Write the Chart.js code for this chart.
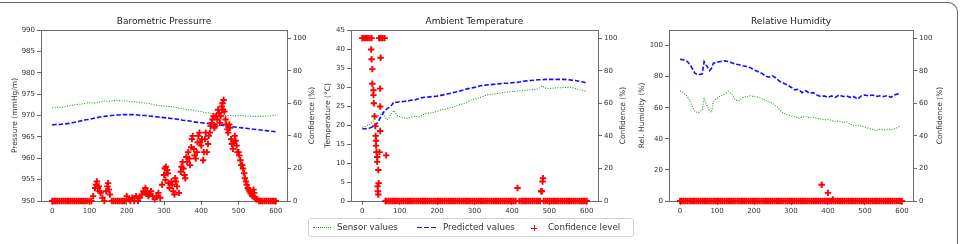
<!DOCTYPE html>
<html><head><meta charset="utf-8">
<script src="https://cdn.jsdelivr.net/npm/chart.js@4.4.0/dist/chart.umd.min.js"></script>
<style>
html,body{margin:0;padding:0;background:#fff;width:960px;height:244px;overflow:hidden;position:relative;font-family:"DejaVu Sans",sans-serif;}
.frame{position:absolute;left:-20px;top:2px;width:978px;height:300px;border-top:1.5px solid #666;border-right:1.5px solid #666;border-top-right-radius:10px;box-sizing:border-box;}
canvas{position:absolute;top:0;}
#legend{position:absolute;left:308px;top:218px;width:326px;height:19px;border:1px solid #d4d4d4;border-radius:3px;box-sizing:border-box;font-size:8.7px;color:#333;}
#legend span{position:absolute;}
.lt{top:3px;line-height:11px;white-space:nowrap;}
</style></head>
<body>
<div class="frame"></div>
<canvas id="c1" width="328" height="215" style="left:0px;width:328px;height:215px"></canvas>
<canvas id="c2" width="307" height="215" style="left:321px;width:307px;height:215px"></canvas>
<canvas id="c3" width="338" height="215" style="left:622px;width:338px;height:215px"></canvas>
<div id="legend">
  <span style="left:4px;top:8px;width:18px;border-top:1.3px dotted #1f9a1f;"></span>
  <span class="lt" style="left:28px;">Sensor values</span>
  <span style="left:108px;top:8px;width:5px;border-top:1.6px solid #1010ff;"></span>
  <span style="left:115px;top:8px;width:5px;border-top:1.6px solid #1010ff;"></span>
  <span style="left:122px;top:8px;width:5px;border-top:1.6px solid #1010ff;"></span>
  <span class="lt" style="left:134px;">Predicted values</span>
  <span style="left:222px;top:8.5px;width:6px;border-top:1.3px solid #f00;"></span>
  <span style="left:224.5px;top:6px;height:6px;border-left:1.3px solid #f00;"></span>
  <span class="lt" style="left:239px;">Confidence level</span>
</div>
<script>
// ---------- shared ----------
const xTicks = [0, 100, 200, 300, 400, 500, 600];
const confTicks = [0, 20, 40, 60, 80, 100];
const seriesLabels = ['Sensor values', 'Predicted values', 'Confidence level'];

// ---------- Panel 1: Barometric Pressure ----------
const presX = [0,10,20,30,40,50,60,70,80,90,100,110,120,130,140,150,160,170,180,190,200,210,220,230,240,250,260,270,280,290,300,310,320,330,340,350,360,370,380,390,400,410,420,430,440,450,460,470,480,490,500,510,520,530,540,550,560,570,580,590,600];
const presSensor = [971.8,971.8,971.9,972.0,972.2,972.3,972.5,972.6,972.7,972.9,973.0,972.9,973.0,973.2,973.4,973.3,973.4,973.5,973.5,973.4,973.4,973.3,973.2,973.1,973.0,972.9,972.8,972.6,972.4,972.3,972.2,972.1,972.1,971.9,971.7,971.6,971.4,971.3,971.2,971.0,970.9,970.7,970.6,970.4,970.2,970.1,970.0,970.0,970.0,969.9,970.0,970.0,969.9,969.9,969.8,969.8,969.8,969.9,969.9,970.0,970.1];
const presPred = [967.8,967.9,967.9,968.0,968.1,968.2,968.4,968.6,968.8,969.0,969.1,969.3,969.5,969.7,969.8,969.9,970.0,970.1,970.1,970.2,970.2,970.2,970.2,970.1,970.0,970.0,969.9,969.8,969.7,969.6,969.5,969.4,969.3,969.2,969.1,968.9,968.8,968.7,968.5,968.4,968.3,968.2,968.1,968.0,967.9,967.8,967.7,967.5,967.4,967.3,967.2,967.1,967.0,966.9,966.8,966.7,966.6,966.5,966.4,966.3,966.2];
const presTicks = [950, 955, 960, 965, 970, 975, 980, 985, 990];
// confidence sampled every 5 steps (x = 0..600)
const presConf = [
  0,0,0,0,0,0,0,0,0,0,0,0,0,0,0,0,0,0,0,0,
  0,0,3,8,12,9,5,2,0,6,11,4,0,0,0,0,0,0,0,0,
  3,1,0,2,0,3,0,2,4,6,8,6,4,6,3,1,3,5,2,10,
  16,21,17,8,12,6,14,9,5,18,24,16,27,30,22,38,32,26,36,42,
  34,25,38,30,40,46,50,45,52,56,48,58,62,50,44,47,38,32,40,34,
  30,25,22,17,12,8,6,4,7,2,1,0,0,0,0,0,0,0,0,0,
  0];
// additional scattered confidence points [x, value]
const presConfExtra = [[118,10],[122,8],[127,6],[148,9],[152,7],[250,5],[258,3],[302,20],[304,13],[308,19],[312,11],[322,10],[328,4],[332,12],[347,21],[352,20],[357,14],[362,24],[368,26],[373,33],[377,40],[382,28],[388,30],[392,40],[397,36],[402,38],[407,30],[412,42],[418,35],[423,42],[428,48],[433,52],[438,46],[443,50],[448,54],[452,52],[457,60],[458,56],[462,55],[467,47],[472,42],[477,45],[482,35],[487,36],[492,37],[497,30],[502,28],[507,22],[512,20],[517,14],[522,10],[527,7],[532,5],[537,3],[542,5],[547,1]];

// ---------- Panel 2: Ambient Temperature ----------
const tempX = [0,10,20,30,40,50,55,60,65,70,75,80,85,90,95,100,110,120,130,140,150,160,170,180,190,200,210,220,230,240,250,260,270,280,290,300,310,320,330,340,350,360,370,380,390,400,410,420,430,440,450,460,470,480,490,500,510,520,530,540,550,560,570,580,590,597];
const tempSensor = [19.4,19.7,20.2,21.0,22.3,23.0,23.4,22.5,21.4,21.6,22.5,23.3,23.8,23.0,22.3,22.2,21.9,21.8,22.0,22.3,22.1,22.6,23.0,23.1,23.3,23.6,24.0,24.1,24.5,24.6,25.0,25.4,25.6,26.0,26.5,26.8,27.1,27.4,27.8,28.0,28.1,28.3,28.4,28.6,28.7,28.8,28.9,29.0,29.0,29.2,29.3,29.3,29.5,30.3,29.7,29.6,29.7,29.8,29.8,29.9,29.9,29.8,29.6,29.3,29.1,28.9];
const tempPred = [19.0,19.0,19.2,19.6,20.5,22.2,23.0,23.8,24.2,24.5,24.8,25.4,26.1,26.0,26.0,26.1,26.2,26.3,26.5,26.6,26.9,27.2,27.3,27.4,27.5,27.6,27.8,28.0,28.2,28.4,28.7,28.9,29.2,29.5,29.7,29.9,30.2,30.4,30.5,30.6,30.7,30.8,30.9,31.0,31.0,31.1,31.2,31.3,31.5,31.6,31.7,31.8,31.9,31.9,32.0,32.0,32.0,32.0,32.0,32.0,31.9,31.8,31.7,31.5,31.3,31.1];
const tempTicks = [0, 5, 10, 15, 20, 25, 30, 35, 40, 45];
const tempConf = [
  100,100,100,100,100,100,65,46,27,100,100,100,100,0,0,0,0,0,0,0,
  0,0,0,0,0,0,0,0,0,0,0,0,0,0,0,0,0,0,0,0,
  0,0,0,0,0,0,0,0,0,0,0,0,0,0,0,0,0,0,0,0,
  0,0,0,0,0,0,0,0,0,0,0,0,0,0,0,0,0,0,0,0,
  0,0,0,8,0,0,0,0,0,0,0,0,0,0,0,0,6,0,0,0,
  0,0,0,0,0,0,0,0,0,0,0,0,0,0,0,0,0,0,0,0,
  0];
const tempConfExtra = [[24,93],[25,87],[27,81],[27,72],[30,68],[31,60],[33,52],[36,40],[37,37],[37,34],[38,30],[40,24],[43,19],[41,9],[42,6],[43,4],[44,11],[46,30],[48,43],[48,58],[48,69],[49,88],[64,28],[62,0],[478,6],[482,12],[483,14]];

// ---------- Panel 3: Relative Humidity ----------
const humX = [0,10,20,30,40,50,60,65,70,80,85,90,100,110,120,130,140,150,160,170,180,190,200,210,220,230,240,250,260,270,280,290,300,310,320,330,340,350,360,370,380,390,400,410,420,430,440,450,460,470,480,490,500,510,520,530,540,550,560,570,580,590,595];
const humSensor = [71.0,69.3,67.2,62.4,57.5,56.9,58.6,65.7,62.9,57.5,57.1,63.9,66.1,67.6,68.7,70.4,68.7,65.0,64.4,66.7,67.2,67.6,67.2,66.7,66.1,65.0,63.9,62.9,61.2,58.6,56.4,55.4,54.7,54.3,53.2,53.9,54.3,53.6,53.9,53.2,52.8,52.1,52.6,51.7,51.1,51.5,50.4,51.1,49.6,48.3,48.9,48.3,47.4,46.8,46.1,45.3,46.1,45.7,46.1,45.7,46.6,47.4,48.3];
const humPred = [91.2,90.8,89.7,86.5,82.2,81.1,81.8,89.7,87.6,83.9,85.4,88.6,89.3,89.7,90.1,89.7,89.0,88.0,87.6,87.0,86.5,85.8,84.3,83.3,82.2,80.5,79.6,80.5,79.0,76.8,75.8,74.7,73.2,71.5,71.9,69.7,71.0,69.3,69.7,68.2,67.2,67.6,66.7,67.6,66.7,68.2,67.2,67.6,66.7,67.2,65.5,67.6,68.2,67.6,68.2,67.2,67.6,67.2,67.8,66.7,68.2,68.9,69.3];
const humTicks = [0, 20, 40, 60, 80, 100];
const humConf = [
  0,0,0,0,0,0,0,0,0,0,0,0,0,0,0,0,0,0,0,0,
  0,0,0,0,0,0,0,0,0,0,0,0,0,0,0,0,0,0,0,0,
  0,0,0,0,0,0,0,0,0,0,0,0,0,0,0,0,0,0,0,0,
  0,0,0,0,0,0,0,0,0,0,0,0,0,0,0,0,0,0,0,0,
  0,0,0,0,0,0,0,0,0,0,0,0,0,0,0,0,0,0,0,0,
  0,0,0,0,0,0,0,0,0,0,0,0,0,0,0,0,0,0,0,0,
  0];
const humConfExtra = [[383,10],[400,5],[413,1]];

// ---------- drawing ----------
Chart.defaults.font.family = '"DejaVu Sans", sans-serif';
Chart.defaults.animation = false;
const SPINE = '#6a6a6a';
const TXT = '#333';

const framePlugin = {
  id: 'frameTop',
  afterDatasetsDraw(chart, args, opts) {
    const a = chart.chartArea, ctx = chart.ctx;
    ctx.save();
    ctx.strokeStyle = SPINE; ctx.lineWidth = 1;
    ctx.beginPath(); ctx.moveTo(a.left, a.top + 0.5); ctx.lineTo(a.right, a.top + 0.5); ctx.stroke();
    // right axis title, reading bottom-to-top like the reference
    ctx.fillStyle = TXT;
    ctx.font = '7.5px "DejaVu Sans", sans-serif';
    ctx.translate(opts.rightTitleX, (a.top + a.bottom) / 2);
    ctx.rotate(-Math.PI / 2);
    ctx.textAlign = 'center'; ctx.textBaseline = 'middle';
    ctx.fillText('Confidence (%)', 0, 0);
    ctx.restore();
  }
};

function pts(xs, ys) { return xs.map((x, i) => ({ x: x, y: ys[i] })); }
function stepPts(ys) { return ys.map((v, i) => ({ x: i * 5, y: v })); }
function pairPts(arr) { return arr.map(p => ({ x: p[0], y: p[1] })); }

function makePanel(id, o) {
  const tickFont = { size: 7 };
  const confStyle = {
    yAxisID: 'y1', showLine: false, pointStyle: 'cross', pointRadius: 3.2, pointHoverRadius: 3.2,
    pointBorderColor: '#ff0000', pointBackgroundColor: '#ff0000', pointBorderWidth: 1.9,
    borderColor: '#ff0000', clip: false, order: 0
  };
  new Chart(document.getElementById(id), {
    type: 'line',
    data: {
      datasets: [
        Object.assign({ label: seriesLabels[2], data: stepPts(o.conf) }, confStyle),
        Object.assign({ label: seriesLabels[2] + ' ', data: pairPts(o.confExtra) }, confStyle),
        { label: seriesLabels[0], data: pts(o.x, o.sensor), yAxisID: 'y', borderColor: '#1f9a1f', borderWidth: 1.1,
          borderDash: [1, 1.5], pointRadius: 0, tension: 0, order: 2 },
        { label: seriesLabels[1], data: pts(o.x, o.pred), yAxisID: 'y', borderColor: '#1010ff', borderWidth: 1.6,
          borderDash: [4.5, 2], pointRadius: 0, tension: 0, order: 1 }
      ]
    },
    options: {
      responsive: false, maintainAspectRatio: false, animation: false,
      layout: { padding: 0 },
      plugins: {
        legend: { display: false }, tooltip: { enabled: false },
        title: { display: true, text: o.title, color: '#222', font: { size: 9, weight: 'normal' }, padding: { top: 16.6, bottom: 2.6 } },
        frameTop: { rightTitleX: o.rightTitleX }
      },
      scales: {
        x: {
          type: 'linear', min: -30, max: 630,
          afterBuildTicks: s => { s.ticks = xTicks.map(v => ({ value: v })); },
          afterFit: s => { s.height = 14; },
          ticks: { font: tickFont, color: TXT, padding: 2, maxRotation: 0 },
          grid: { drawOnChartArea: false, tickLength: 4, color: SPINE },
          border: { color: SPINE, width: 1 }
        },
        y: {
          type: 'linear', position: 'left', min: o.yMin, max: o.yMax,
          afterBuildTicks: s => { s.ticks = o.yTicks.map(v => ({ value: v })); },
          afterFit: s => { s.width = o.leftW; },
          ticks: { font: tickFont, color: TXT, padding: 2 },
          grid: { drawOnChartArea: false, tickLength: 4, color: SPINE },
          border: { color: SPINE, width: 1 },
          title: { display: true, text: o.yTitle, color: TXT, font: { size: 7.5 }, padding: { top: o.leftPad, bottom: 0 } }
        },
        y1: {
          type: 'linear', position: 'right', min: 0, max: 105,
          afterBuildTicks: s => { s.ticks = confTicks.map(v => ({ value: v })); },
          afterFit: s => { s.width = o.rightW; },
          ticks: { font: tickFont, color: TXT, padding: 2 },
          grid: { drawOnChartArea: false, tickLength: 4, color: SPINE },
          border: { color: SPINE, width: 1 }
        }
      }
    },
    plugins: [framePlugin]
  });
}

makePanel('c1', { title: 'Barometric Pressurre', yTitle: 'Pressure (mmHg/m)', x: presX, sensor: presSensor, pred: presPred,
  conf: presConf, confExtra: presConfExtra, yMin: 950, yMax: 990, yTicks: presTicks, leftW: 41, rightW: 41, leftPad: 10.5, rightTitleX: 312 });
makePanel('c2', { title: 'Ambient Temperature', yTitle: 'Temperature (°C)', x: tempX, sensor: tempSensor, pred: tempPred,
  conf: tempConf, confExtra: tempConfExtra, yMin: 0, yMax: 45, yTicks: tempTicks, leftW: 30, rightW: 30, leftPad: 2.5, rightTitleX: 302 });
makePanel('c3', { title: 'Relative Humidity', yTitle: 'Rel. Humidity (%)', x: humX, sensor: humSensor, pred: humPred,
  conf: humConf, confExtra: humConfExtra, yMin: 0, yMax: 110, yTicks: humTicks, leftW: 47, rightW: 47, leftPad: 15.5, rightTitleX: 318 });
</script>
</body></html>
